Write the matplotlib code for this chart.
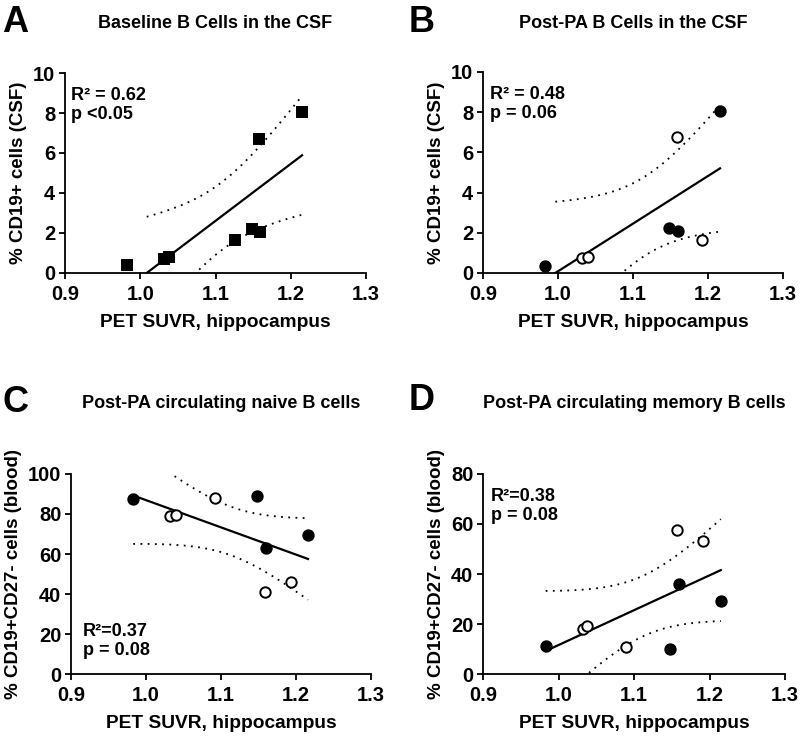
import numpy as np
import matplotlib
matplotlib.use("Agg")
import matplotlib.pyplot as plt

plt.rcParams['font.family'] = ['Liberation Sans', 'DejaVu Sans']
plt.rcParams['font.weight'] = 'bold'

# Panel A: baseline B cells in CSF
a_x = [0.983, 1.032, 1.038, 1.126, 1.148, 1.159, 1.158, 1.215]
a_y = [0.38, 0.72, 0.78, 1.63, 2.20, 2.05, 6.72, 8.05]

# Panel B: post-PA B cells in CSF (filled / open)
b_fill_x = [0.983, 1.148, 1.160, 1.216]
b_fill_y = [0.35, 2.25, 2.08, 8.07]
b_open_x = [1.032, 1.040, 1.159, 1.192]
b_open_y = [0.75, 0.80, 6.76, 1.66]

# Panel C: post-PA circulating naive B cells
c_fill_x = [0.983, 1.148, 1.160, 1.216]
c_fill_y = [87.7, 89.2, 63.0, 69.7]
c_open_x = [1.032, 1.040, 1.092, 1.159, 1.193]
c_open_y = [78.8, 79.7, 88.0, 41.0, 46.0]

# Panel D: post-PA circulating memory B cells
d_fill_x = [0.983, 1.148, 1.159, 1.215]
d_fill_y = [11.3, 10.0, 36.0, 29.3]
d_open_x = [1.032, 1.038, 1.090, 1.157, 1.191]
d_open_y = [18.0, 19.3, 10.8, 57.7, 53.1]

t_crit = {6: 2.447, 7: 2.365}  # 95% two-sided t values


def fit_with_bands(ax, x, y, ylo):
    x = np.asarray(x)
    y = np.asarray(y)
    n = len(x)
    slope, icpt = np.polyfit(x, y, 1)
    x0 = x.min()
    if slope * x0 + icpt < ylo:
        x0 = (ylo - icpt) / slope
    xs = np.linspace(x0, x.max(), 100)
    yh = slope * xs + icpt
    resid = y - (slope * x + icpt)
    s = np.sqrt(np.sum(resid ** 2) / (n - 2))
    sxx = np.sum((x - x.mean()) ** 2)
    half = t_crit[n - 2] * s * np.sqrt(1.0 / n + (xs - x.mean()) ** 2 / sxx)
    ax.plot(xs, yh, color="black", lw=1.6)
    ax.plot(xs, yh + half, color="black", lw=1.3, ls=(0, (1, 3)))
    ax.plot(xs, yh - half, color="black", lw=1.3, ls=(0, (1, 3)))


def style(ax, yticks, ylabel):
    ax.set_xlim(0.9, 1.3)
    ax.set_ylim(yticks[0], yticks[-1])
    ax.set_xticks([0.9, 1.0, 1.1, 1.2, 1.3])
    ax.set_xticklabels(["0.9", "1.0", "1.1", "1.2", "1.3"])
    ax.set_yticks(yticks)
    for sp in ["top", "right"]:
        ax.spines[sp].set_visible(False)
    for sp in ["left", "bottom"]:
        ax.spines[sp].set_linewidth(1.3)
    ax.tick_params(direction="out", length=4.5, width=1.3, labelsize=14.5, pad=2.5)
    ax.tick_params(axis="x", pad=4)
    for lab in ax.get_xticklabels() + ax.get_yticklabels():
        lab.set_fontweight("bold")
    ax.set_xlabel("PET SUVR, hippocampus", fontsize=13.8, fontweight="bold", labelpad=7)
    ax.set_ylabel(ylabel, fontsize=13.5, fontweight="bold", labelpad=4)


fig = plt.figure(figsize=(8, 7.36), dpi=100)
axA = fig.add_axes([0.08125, 0.6291, 0.37625, 0.2717])
axB = fig.add_axes([0.60375, 0.6291, 0.375, 0.2731])
axC = fig.add_axes([0.08875, 0.0842, 0.375, 0.2718])
axD = fig.add_axes([0.60375, 0.0842, 0.3775, 0.2718])

mk = dict(ms=7.5, mec="black", mew=1.4, ls="none", clip_on=False, zorder=5)
note = dict(fontsize=13, fontweight="bold", va="top", linespacing=1.12)

# A
fit_with_bands(axA, a_x, a_y, 0)
axA.plot(a_x, a_y, marker="s", mfc="black", **mk)
style(axA, [0, 2, 4, 6, 8, 10], "% CD19+ cells (CSF)")
axA.text(0.02, 0.93, "R² = 0.62\np <0.05", transform=axA.transAxes, **note)

# B
fit_with_bands(axB, b_fill_x + b_open_x, b_fill_y + b_open_y, 0)
axB.plot(b_fill_x, b_fill_y, marker="o", mfc="black", **mk)
axB.plot(b_open_x, b_open_y, marker="o", mfc="white", **mk)
style(axB, [0, 2, 4, 6, 8, 10], "% CD19+ cells (CSF)")
axB.text(0.025, 0.93, "R² = 0.48\np = 0.06", transform=axB.transAxes, **note)

# C
fit_with_bands(axC, c_fill_x + c_open_x, c_fill_y + c_open_y, 0)
axC.plot(c_fill_x, c_fill_y, marker="o", mfc="black", **mk)
axC.plot(c_open_x, c_open_y, marker="o", mfc="white", **mk)
style(axC, [0, 20, 40, 60, 80, 100], "% CD19+CD27- cells (blood)")
axC.text(0.04, 0.255, "R²=0.37\np = 0.08", transform=axC.transAxes, **note)

# D
fit_with_bands(axD, d_fill_x + d_open_x, d_fill_y + d_open_y, 0)
axD.plot(d_fill_x, d_fill_y, marker="o", mfc="black", **mk)
axD.plot(d_open_x, d_open_y, marker="o", mfc="white", **mk)
style(axD, [0, 20, 40, 60, 80], "% CD19+CD27- cells (blood)")
axD.text(0.025, 0.93, "R²=0.38\np = 0.08", transform=axD.transAxes, **note)

# titles and panel letters
titles = [(axA, "Baseline B Cells in the CSF", 24), (axB, "Post-PA B Cells in the CSF", 24),
          (axC, "Post-PA circulating naive B cells", 404), (axD, "Post-PA circulating memory B cells", 404)]
for ax, t, ypx in titles:
    b = ax.get_position()
    fig.text((b.x0 + b.x1) / 2, 1 - ypx / 736, t, ha="center", va="center",
             fontsize=13, fontweight="bold")

for letter, xpx, ypx in [("A", 2, 23), ("B", 409, 23), ("C", 2, 403), ("D", 409, 400)]:
    fig.text(xpx / 800, 1 - ypx / 736, letter, ha="left", va="center",
             fontsize=26, fontweight="bold")

fig.savefig("out.png", dpi=100)
